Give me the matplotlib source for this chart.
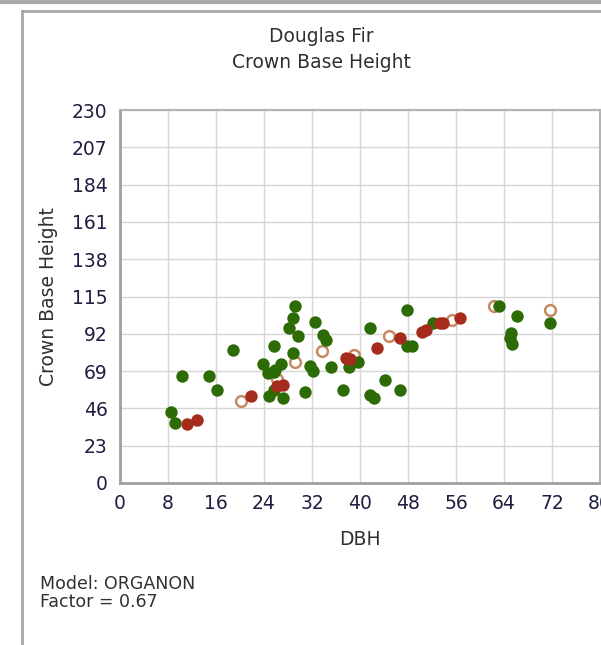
import matplotlib
matplotlib.use('Agg')
import matplotlib.pyplot as plt
from matplotlib.lines import Line2D

# measured (green), predicted (red), reference (open circles)
green_dbh = [8.5, 9.2, 10.4, 14.8, 16.1, 18.9, 23.9, 24.7, 25.8, 25.6, 24.9, 25.6,
             25.6, 26.9, 27.2, 28.2, 28.9, 29.2, 29.6, 28.9, 30.8, 31.6, 32.2, 32.5,
             33.9, 34.3, 35.2, 37.2, 38.2, 39.7, 41.6, 42.3, 41.7, 44.2, 46.6, 47.9,
             47.8, 48.6, 52.1, 63.1, 66.2, 65.2, 65.0, 65.3, 71.6]
green_cbh = [43.6, 37.2, 65.8, 65.8, 57.3, 82.0, 73.4, 67.6, 69.7, 84.5, 53.6, 57.3,
             68.6, 73.4, 52.2, 95.8, 101.9, 109.3, 90.6, 80.0, 55.9, 72.1, 69.3, 99.3,
             91.3, 88.2, 71.7, 57.3, 71.7, 74.4, 54.3, 52.2, 95.8, 63.5, 57.3, 106.7,
             84.5, 84.5, 98.5, 109.1, 103.0, 92.3, 89.2, 85.7, 98.5]

red_dbh = [11.1, 12.9, 21.9, 26.2, 27.2, 37.7, 38.3, 42.9, 46.6, 50.3, 51.0, 53.3, 53.9, 56.6]
red_cbh = [36.2, 38.8, 53.6, 59.8, 60.4, 76.9, 76.6, 83.0, 89.2, 93.3, 94.5, 98.5, 98.5, 101.9]

open_dbh = [20.2, 26.1, 29.2, 33.7, 39.0, 44.8, 55.3, 62.4, 71.6]
open_cbh = [50.8, 63.9, 74.4, 81.2, 78.9, 90.6, 100.5, 109.3, 106.7]

x_ticks = [0, 8, 16, 24, 32, 40, 48, 56, 64, 72, 80]
y_ticks = [0, 23, 46, 69, 92, 115, 138, 161, 184, 207, 230]

W, H = 601, 645
fig = plt.figure(figsize=(W / 100, H / 100), dpi=100)
fig.patch.set_facecolor('white')

# panel frame
fig.add_artist(Line2D([0, 1], [1 - 2 / H, 1 - 2 / H], transform=fig.transFigure,
                      color='#a8a8a8', lw=3))
fig.add_artist(Line2D([22 / W, 1], [1 - 11 / H, 1 - 11 / H], transform=fig.transFigure,
                      color='#a8a8a8', lw=2))
fig.add_artist(Line2D([22 / W, 22 / W], [0, 1 - 11 / H], transform=fig.transFigure,
                      color='#a8a8a8', lw=2))

ax = fig.add_axes([120 / W, (H - 483) / H, 480 / W, 373 / H])

ax.scatter(open_dbh, open_cbh, s=60, facecolors='white', edgecolors='#c48a64',
           linewidths=1.8, zorder=3)
ax.scatter(green_dbh, green_cbh, s=80, color='#2d6b06', linewidths=0, zorder=4)
ax.scatter(red_dbh, red_cbh, s=80, color='#a52c1c', linewidths=0, zorder=5)

ax.set_xlim(0, 80)
ax.set_ylim(0, 230)
ax.set_xticks(x_ticks)
ax.set_yticks(y_ticks)
ax.grid(True, color='#d6d6d6', lw=1.0)
ax.set_axisbelow(True)
ax.tick_params(length=0, labelsize=13.5, labelcolor='#1e1e40')
ax.tick_params(axis='x', pad=8)
ax.tick_params(axis='y', pad=9)
for side in ['left', 'bottom']:
    ax.spines[side].set_color('#a0a0a0')
    ax.spines[side].set_linewidth(2)
for side in ['top', 'right']:
    ax.spines[side].set_color('#b4b4b4')
    ax.spines[side].set_linewidth(1.5)

ax.set_xlabel('DBH', fontsize=13.5, color='#303030', labelpad=12)
ax.set_ylabel('Crown Base Height', fontsize=13.5, color='#303030', labelpad=10)

fig.text(321 / W, 1 - 36 / H, 'Douglas Fir', ha='center', va='center',
         fontsize=13.5, color='#303030')
fig.text(321 / W, 1 - 62 / H, 'Crown Base Height', ha='center', va='center',
         fontsize=13.5, color='#303030')
fig.text(40 / W, 1 - 584 / H, 'Model: ORGANON', ha='left', va='center',
         fontsize=12.5, color='#303030')
fig.text(40 / W, 1 - 602 / H, 'Factor = 0.67', ha='left', va='center',
         fontsize=12.5, color='#303030')

fig.savefig('out.png', dpi=100, facecolor='white')
